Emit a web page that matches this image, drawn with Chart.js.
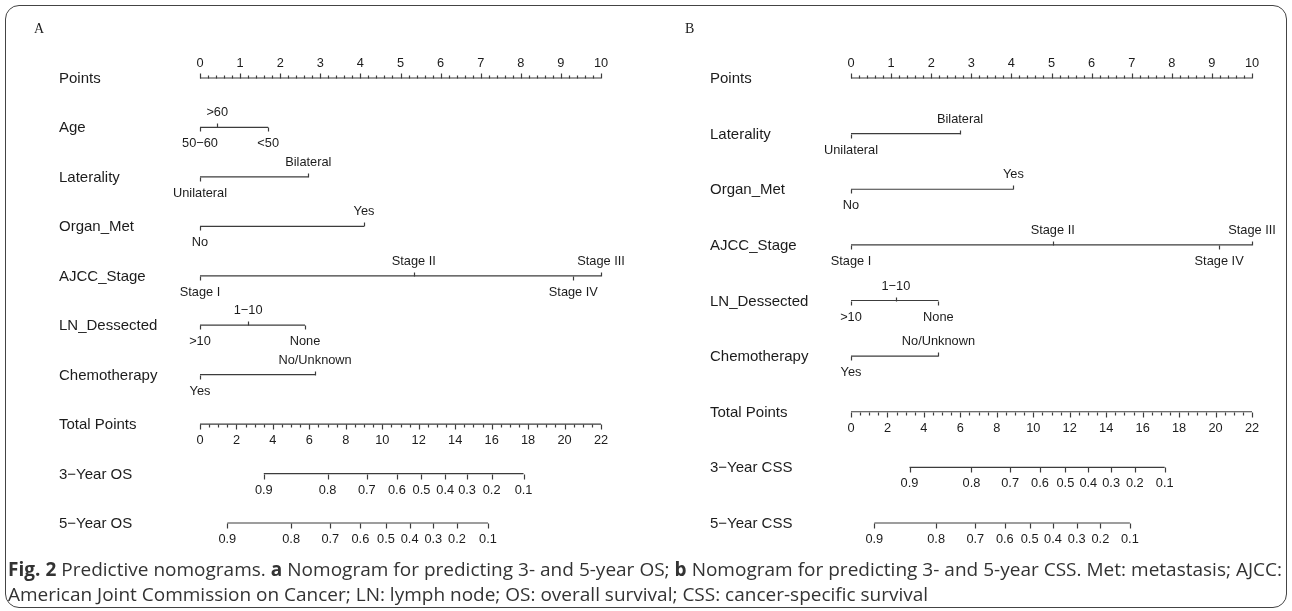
<!DOCTYPE html>
<html>
<head>
<meta charset="utf-8">
<script src="https://cdn.jsdelivr.net/npm/chart.js@4.4.1/dist/chart.umd.min.js"></script>
<style>
  html, body { margin: 0; padding: 0; background: #fff; }
  body { width: 1292px; height: 611px; position: relative; overflow: hidden; }
  #frame { position: absolute; left: 5px; top: 5px; width: 1282px; height: 603px; box-sizing: border-box;
           border: 1.5px solid #444; border-radius: 14px; }
  canvas { position: absolute; }
  #chartA { left: 10px; top: 8px; }
  #chartB { left: 660px; top: 8px; }
  .cap { position: absolute; left: 8px; font-family: "Open Sans", sans-serif; font-size: 19px;
         line-height: 25px; color: #333; white-space: nowrap; }
  #cap1 { top: 557px; width: 1274px; white-space: normal; text-align: justify; text-align-last: justify; }
  #cap2 { top: 582px; }
</style>
</head>
<body>
<div id="frame"></div>
<canvas id="chartA" width="636" height="560"></canvas>
<canvas id="chartB" width="627" height="560"></canvas>
<div class="cap" id="cap1"><b>Fig. 2</b> Predictive nomograms. <b>a</b> Nomogram for predicting 3- and 5-year OS; <b>b</b> Nomogram for predicting 3- and 5-year CSS. Met: metastasis; AJCC:</div>
<div class="cap" id="cap2">American Joint Commission on Cancer; LN: lymph node; OS: overall survival; CSS: cancer-specific survival</div>

<script>
// ---- DATA ----
const pointsTicks = [0, 1, 2, 3, 4, 5, 6, 7, 8, 9, 10];
const totalTicks = [0, 2, 4, 6, 8, 10, 12, 14, 16, 18, 20, 22];
const survLabels = ['0.9', '0.8', '0.7', '0.6', '0.5', '0.4', '0.3', '0.2', '0.1'];

const ageLevels = ['50−60', '>60', '<50'];
const lateralityLevels = ['Unilateral', 'Bilateral'];
const organLevels = ['No', 'Yes'];
const ajccLevels = ['Stage I', 'Stage II', 'Stage III', 'Stage IV'];
const lnLevels = ['>10', '1−10', 'None'];
const chemoLevels = ['Yes', 'No/Unknown'];

// panel A (OS)
const ageA = [0, 0.43, 1.7];
const lateralityA = [0, 2.7];
const organA = [0, 4.09];
const ajccA = [0, 5.33, 10, 9.31];
const lnA = [0, 1.2, 2.62];
const chemoA = [0, 2.87];
const os3A = [3.5, 7.0, 9.15, 10.8, 12.15, 13.45, 14.65, 16.0, 17.75];   // total points
const os5A = [1.5, 5.0, 7.15, 8.8, 10.2, 11.5, 12.8, 14.1, 15.8];

// panel B (CSS)
const lateralityB = [0, 2.72];
const organB = [0, 4.05];
const ajccB = [0, 5.03, 10, 9.18];
const lnB = [0, 1.12, 2.18];
const chemoB = [0, 2.18];
const css3B = [3.21, 6.61, 8.73, 10.37, 11.76, 13.02, 14.27, 15.57, 17.21];
const css5B = [1.28, 4.67, 6.82, 8.44, 9.8, 11.08, 12.38, 13.68, 15.3];

// ---- ROWS ----
const rowsA = [
  { name: 'Points', kind: 'points' },
  { name: 'Age', kind: 'var', labels: ageLevels, values: ageA },
  { name: 'Laterality', kind: 'var', labels: lateralityLevels, values: lateralityA },
  { name: 'Organ_Met', kind: 'var', labels: organLevels, values: organA },
  { name: 'AJCC_Stage', kind: 'var', labels: ajccLevels, values: ajccA },
  { name: 'LN_Dessected', kind: 'var', labels: lnLevels, values: lnA },
  { name: 'Chemotherapy', kind: 'var', labels: chemoLevels, values: chemoA },
  { name: 'Total Points', kind: 'total' },
  { name: '3−Year OS', kind: 'surv', labels: survLabels, values: os3A },
  { name: '5−Year OS', kind: 'surv', labels: survLabels, values: os5A }
];
const rowsB = [
  { name: 'Points', kind: 'points' },
  { name: 'Laterality', kind: 'var', labels: lateralityLevels, values: lateralityB },
  { name: 'Organ_Met', kind: 'var', labels: organLevels, values: organB },
  { name: 'AJCC_Stage', kind: 'var', labels: ajccLevels, values: ajccB },
  { name: 'LN_Dessected', kind: 'var', labels: lnLevels, values: lnB },
  { name: 'Chemotherapy', kind: 'var', labels: chemoLevels, values: chemoB },
  { name: 'Total Points', kind: 'total' },
  { name: '3−Year CSS', kind: 'surv', labels: survLabels, values: css3B },
  { name: '5−Year CSS', kind: 'surv', labels: survLabels, values: css5B }
];

const LINE = '#3c3c3c';
const TEXT = '#1c1c1c';
const NAME_FONT = '15px "Liberation Sans", Arial, sans-serif';
const TICK_FONT = '12.8px "Liberation Sans", Arial, sans-serif';

function buildDatasets(rows) {
  return rows.map((r, i) => {
    let lo, hi, axis = 'x';
    if (r.kind === 'points') { lo = pointsTicks[0]; hi = pointsTicks[pointsTicks.length - 1]; }
    else if (r.kind === 'total') { lo = totalTicks[0]; hi = totalTicks[totalTicks.length - 1]; axis = 'xt'; }
    else { lo = Math.min(...r.values); hi = Math.max(...r.values); if (r.kind === 'surv') axis = 'xt'; }
    return {
      data: [{ x: lo, y: i }, { x: hi, y: i }],
      xAxisID: axis,
      showLine: true,
      borderColor: LINE,
      borderWidth: 1.2,
      pointRadius: 0,
      clip: false
    };
  });
}

// draws ticks, level labels and row names
const nomoPlugin = {
  id: 'nomo',
  afterDatasetsDraw(chart, args, opts) {
    const ctx = chart.ctx;
    const sx = chart.scales.x, st = chart.scales.xt, sy = chart.scales.y;
    const rows = opts.rows;
    ctx.save();
    ctx.strokeStyle = LINE;
    ctx.lineWidth = 1.2;
    ctx.fillStyle = TEXT;

    const tick = (x, y, len) => {
      ctx.beginPath();
      ctx.moveTo(Math.round(x) + 0.5, y);
      ctx.lineTo(Math.round(x) + 0.5, y + len);
      ctx.stroke();
    };

    // panel letter
    ctx.font = '14px "Liberation Serif", "Times New Roman", serif';
    ctx.textAlign = 'left';
    ctx.textBaseline = 'middle';
    ctx.fillText(opts.letter, chart.chartArea.left - 166, 21);

    rows.forEach((r, i) => {
      const y = Math.round(sy.getPixelForValue(i)) + 0.5;
      // row name
      ctx.font = NAME_FONT;
      ctx.textAlign = 'left';
      ctx.fillText(r.name, chart.chartArea.left - 141, y);

      ctx.font = TICK_FONT;
      ctx.textAlign = 'center';
      if (r.kind === 'points') {
        const lo = pointsTicks[0], hi = pointsTicks[pointsTicks.length - 1];
        for (let k = 0; k <= (hi - lo) * 5; k++) {
          const v = lo + k / 5;
          tick(sx.getPixelForValue(v), y, k % 5 === 0 ? -5 : -3);
        }
        pointsTicks.forEach(v => ctx.fillText(String(v), sx.getPixelForValue(v), y - 15));
      } else if (r.kind === 'total') {
        const lo = totalTicks[0], hi = totalTicks[totalTicks.length - 1];
        for (let k = 0; k <= (hi - lo) * 2; k++) {
          const v = lo + k / 2;
          tick(st.getPixelForValue(v), y, k % 4 === 0 ? 5 : 3);
        }
        totalTicks.forEach(v => ctx.fillText(String(v), st.getPixelForValue(v), y + 16));
      } else if (r.kind === 'surv') {
        r.values.forEach((v, j) => {
          const px = st.getPixelForValue(v);
          tick(px, y, 5);
          ctx.fillText(r.labels[j], px, y + 16);
        });
      } else {
        // levels alternate below / above in order of their points
        const order = r.values.map((v, j) => j).sort((a, b) => r.values[a] - r.values[b]);
        order.forEach((j, rank) => {
          const px = sx.getPixelForValue(r.values[j]);
          const up = rank % 2 === 1;
          tick(px, y, up ? -4 : 4);
          ctx.fillText(r.labels[j], px, up ? y - 15 : y + 16);
        });
      }
    });
    ctx.restore();
  }
};

function makeNomogram(id, letter, rows, pad) {
  return new Chart(document.getElementById(id), {
    type: 'scatter',
    data: { datasets: buildDatasets(rows) },
    options: {
      responsive: false,
      animation: false,
      events: [],
      layout: { padding: pad },
      plugins: {
        legend: { display: false },
        tooltip: { enabled: false },
        nomo: { rows: rows, letter: letter }
      },
      scales: {
        x: { type: 'linear', min: 0, max: 10, display: false },
        xt: { type: 'linear', axis: 'x', min: 0, max: 22, display: false },
        y: { type: 'linear', min: 0, max: rows.length - 1, reverse: true, display: false }
      }
    },
    plugins: [nomoPlugin]
  });
}

makeNomogram('chartA', 'A', rowsA, { left: 190, right: 45, top: 70, bottom: 45 });
makeNomogram('chartB', 'B', rowsB, { left: 191, right: 35, top: 70, bottom: 45 });
</script>
</body>
</html>
